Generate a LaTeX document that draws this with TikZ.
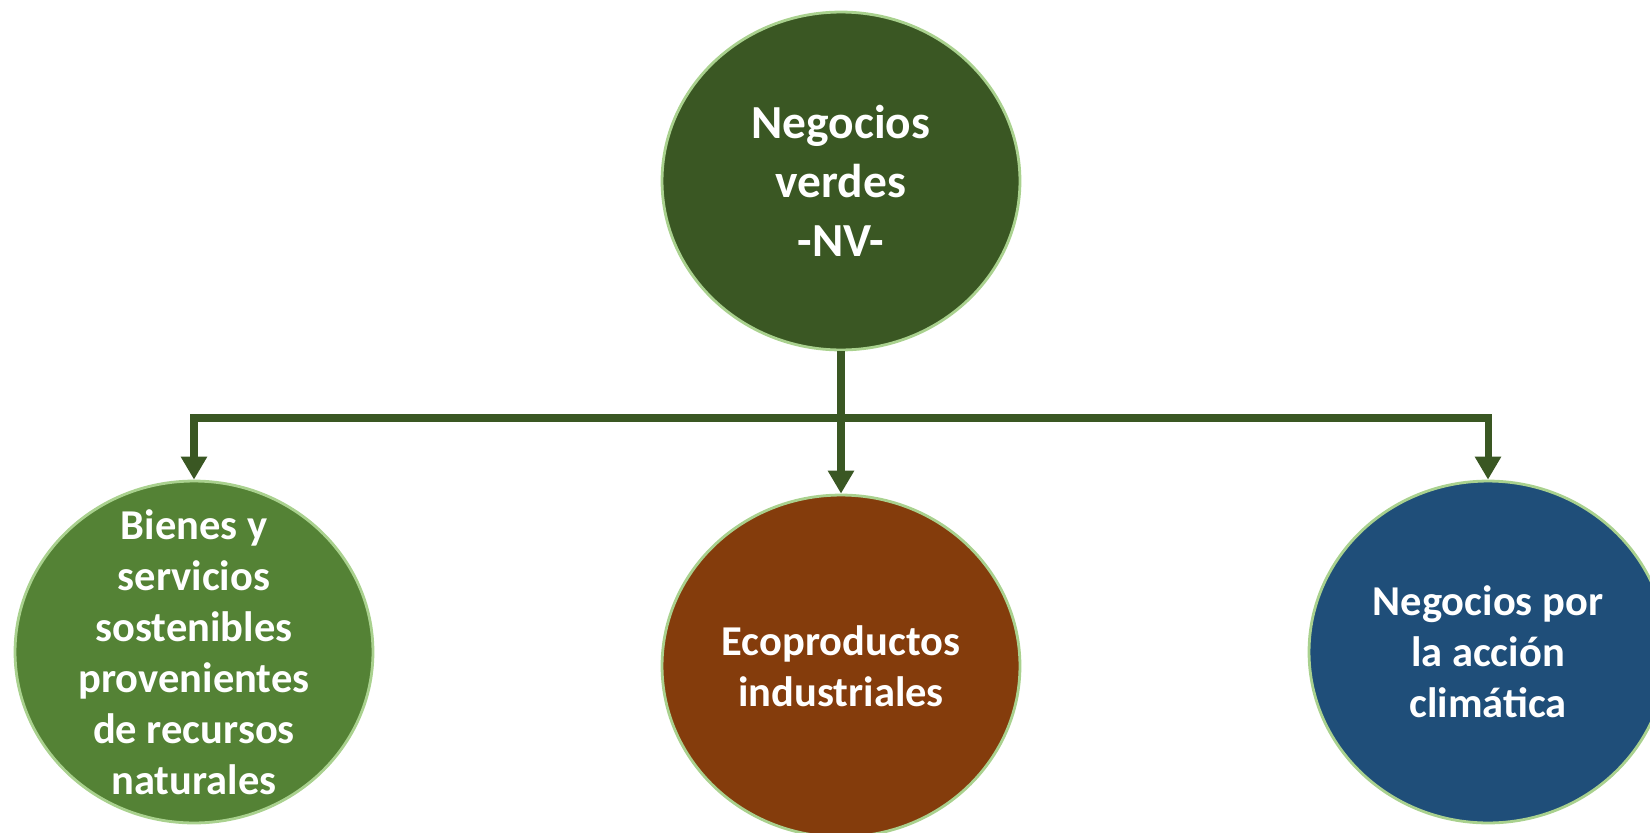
\documentclass[tikz,border=0pt]{standalone}
\usepackage{fontspec}
\setmainfont{Carlito}
\usetikzlibrary{arrows.meta,shapes.geometric}
\definecolor{nvgreen}{HTML}{3A5723}
\definecolor{bsgreen}{HTML}{548235}
\definecolor{ecobrown}{HTML}{843C0C}
\definecolor{acblue}{HTML}{1F4E79}
\definecolor{rimgreen}{HTML}{A9D18E}
\tikzset{
  bubble/.style={ellipse, draw=rimgreen, line width=1.6pt, text=white, align=center,
    font=\bfseries\fontsize{24.2}{29}\selectfont, minimum width=7.16cm, minimum height=6.84cm, inner sep=-1cm},
  link/.style={draw=nvgreen, line width=4pt, line join=miter, -{Triangle[width=0.5cm,length=0.46cm]}}
}

\begin{document}
\begin{tikzpicture}[x=0.02cm, y=-0.02cm]
			%%%%% START %%%%%
			\useasboundingbox (0,0) rectangle (1650,832);
			\clip (0,0) rectangle (1650,832);
			
			\node[bubble, fill=nvgreen, minimum height=6.76cm, font=\bfseries\fontsize{27}{33.6}\selectfont] (nv) at (841,181) {Negocios\\verdes\\-NV-};
			
			\node[bubble, fill=bsgreen] (bienes) at (194,652) {Bienes y\\servicios\\sostenibles\\provenientes\\de recursos\\naturales};
			\node[bubble, fill=ecobrown] (eco) at (841,666) {Ecoproductos\\industriales};
			\node[bubble, fill=acblue] (accion) at (1488,652) {Negocios por\\la acción\\climática};
			
			\coordinate (bar) at (841,418);
			
			\draw[link] (nv.south) -- (eco.north);
			\draw[link] (bar) -| (bienes.north);
			\draw[link] (bar) -| (accion.north);
			
			%%%%% END %%%%%
\end{tikzpicture}
\end{document}
